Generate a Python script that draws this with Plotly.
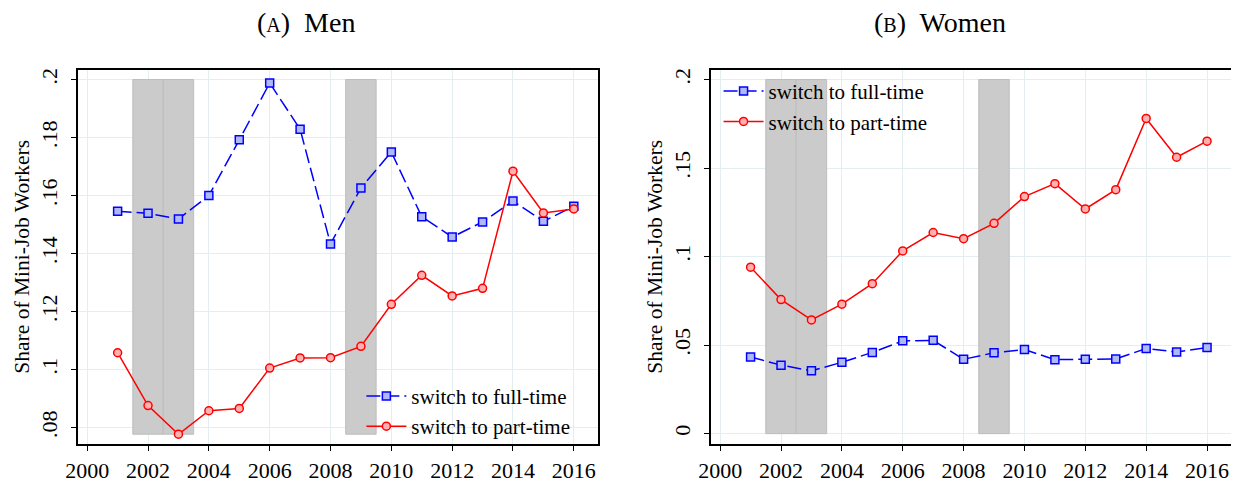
import plotly.graph_objects as go

years = list(range(2001, 2017))
men_full = [0.1546, 0.1539, 0.1519, 0.1600, 0.1792, 0.1988, 0.1829, 0.1433,
            0.1626, 0.1750, 0.1527, 0.1457, 0.1509, 0.1581, 0.1511, 0.1563]
men_part = [0.1058, 0.0876, 0.0777, 0.0858, 0.0866, 0.1005, 0.1040, 0.1041,
            0.1080, 0.1225, 0.1325, 0.1254, 0.1280, 0.1684, 0.1540, 0.1554]
women_full = [0.0433, 0.0387, 0.0355, 0.0403, 0.0459, 0.0524, 0.0527, 0.0420,
              0.0457, 0.0475, 0.0418, 0.0420, 0.0422, 0.0481, 0.0461, 0.0487]
women_part = [0.0940, 0.0757, 0.0642, 0.0731, 0.0847, 0.1032, 0.1136, 0.1101,
              0.1188, 0.1339, 0.1412, 0.1269, 0.1378, 0.1780, 0.1561, 0.1652]
recessions = [(2001.5, 2002.5), (2002.5, 2003.5), (2008.5, 2009.5)]
x_ticks = list(range(2000, 2017, 2))
men_yticks = [0.08, 0.10, 0.12, 0.14, 0.16, 0.18, 0.20]
men_ylabels = [".08", ".1", ".12", ".14", ".16", ".18", ".2"]
women_yticks = [0.0, 0.05, 0.10, 0.15, 0.20]
women_ylabels = ["0", ".05", ".1", ".15", ".2"]
series_names = ["switch to full-time", "switch to part-time"]

FONT = "Times New Roman, Liberation Serif, DejaVu Serif, serif"
BLUE = "#0000ff"
RED = "#ff0000"
GRID = "#e3eef0"

# page body has an 8px margin: figure is sized/positioned to fill the window
OFF = 8
W, H = 1239 - OFF, 483 - OFF

def px(x):
    return (x - OFF) / W

def py(y):
    return (H - (y - OFF)) / H

fig = go.Figure()

def add_panel(xa, ya, full, part, legend):
    fig.add_trace(go.Scatter(
        x=years, y=full, mode="lines+markers", name=series_names[0],
        xaxis=xa, yaxis=ya, legend=legend,
        line=dict(color=BLUE, width=1.5, dash="14px,5px"),
        marker=dict(symbol="square", size=8, color="#b0b8f5",
                    line=dict(color=BLUE, width=1.5))))
    fig.add_trace(go.Scatter(
        x=years, y=part, mode="lines+markers", name=series_names[1],
        xaxis=xa, yaxis=ya, legend=legend,
        line=dict(color=RED, width=1.5),
        marker=dict(symbol="circle", size=8, color="#ffb0b0",
                    line=dict(color=RED, width=1.5))))

add_panel("x", "y", men_full, men_part, "legend")
add_panel("x2", "y2", women_full, women_part, "legend2")

men_lo = min(men_part)
for (a, b) in recessions:
    fig.add_shape(type="rect", xref="x", yref="y", x0=a, x1=b, y0=men_lo, y1=0.2,
                  fillcolor="#cbcbcb", line=dict(color="#bdbdbd", width=1), layer="between")
    fig.add_shape(type="rect", xref="x2", yref="y2", x0=a, x1=b, y0=0.0, y1=0.2,
                  fillcolor="#cbcbcb", line=dict(color="#bdbdbd", width=1), layer="between")

ydom = [py(449), py(69)]

xaxis_common = dict(
    range=[1999.71, 2016.79], tickmode="array", tickvals=x_ticks,
    ticktext=[str(v) for v in x_ticks],
    showgrid=True, gridcolor=GRID, gridwidth=1,
    showline=True, linecolor="black", linewidth=1.5, mirror=True,
    ticks="outside", ticklen=6, tickcolor="black", tickwidth=1,
    tickfont=dict(family=FONT, size=22, color="black"), zeroline=False)

yaxis_common = dict(
    showgrid=True, gridcolor=GRID, gridwidth=1,
    showline=True, linecolor="black", linewidth=1.5, mirror=True,
    ticks="outside", ticklen=6, tickcolor="black", tickwidth=1, tickangle=-90,
    ticklabelstandoff=5,
    tickfont=dict(family=FONT, size=22, color="black"), zeroline=False,
    title=dict(text="Share of Mini-Job Workers", font=dict(family=FONT, size=21.5, color="black"), standoff=1))

fig.update_layout(
    width=W, height=H,
    margin=dict(l=0, r=0, t=0, b=0),
    paper_bgcolor="white", plot_bgcolor="white",
    font=dict(family=FONT, size=21, color="black"),
    xaxis=dict(domain=[px(66), px(591)], anchor="y", **xaxis_common),
    yaxis=dict(domain=ydom, anchor="x", range=[0.07448, 0.2033],
               tickmode="array", tickvals=men_yticks, ticktext=men_ylabels, **yaxis_common),
    xaxis2=dict(domain=[px(705.7), px(1231)], anchor="y2", **xaxis_common),
    yaxis2=dict(domain=ydom, anchor="x2", range=[-0.0056, 0.2054],
                tickmode="array", tickvals=women_yticks, ticktext=women_ylabels, **yaxis_common),
    legend=dict(x=px(352), y=py(380), xanchor="left", yanchor="top",
                bgcolor="rgba(0,0,0,0)", borderwidth=0,
                font=dict(family=FONT, size=21, color="black"),
                tracegroupgap=0, itemwidth=40),
    legend2=dict(x=px(713), y=py(70), xanchor="left", yanchor="top",
                 bgcolor="rgba(0,0,0,0)", borderwidth=0,
                 font=dict(family=FONT, size=21, color="black"),
                 tracegroupgap=0, itemwidth=40),
    showlegend=True,
    annotations=[
        dict(text='(<span style="font-size:20px">A</span>)  Men', x=px(296), y=py(21),
             xref="paper", yref="paper", showarrow=False, xanchor="center", yanchor="middle",
             font=dict(family=FONT, size=28, color="black")),
        dict(text='(<span style="font-size:20px">B</span>)  Women', x=px(937), y=py(21),
             xref="paper", yref="paper", showarrow=False, xanchor="center", yanchor="middle",
             font=dict(family=FONT, size=28, color="black")),
    ],
)

fig.write_html("out.html")
